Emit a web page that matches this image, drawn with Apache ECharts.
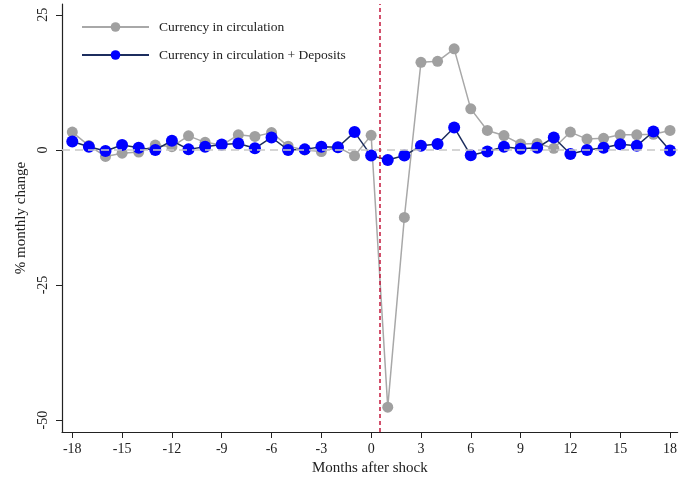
<!DOCTYPE html>
<html>
<head>
<meta charset="utf-8">
<script src="https://cdn.jsdelivr.net/npm/echarts@6/dist/echarts.min.js"></script>
<style>
  html, body { margin: 0; padding: 0; background: #fff; }
  #chart { width: 680px; height: 484px; }
</style>
</head>
<body>
<div id="chart"></div>
<script>
const months = [-18, -17, -16, -15, -14, -13, -12, -11, -10, -9, -8, -7, -6, -5, -4, -3, -2, -1,
  0, 1, 2, 3, 4, 5, 6, 7, 8, 9, 10, 11, 12, 13, 14, 15, 16, 17, 18]

const currency = [3.3, 0.8, -1.2, -0.6, -0.4, 0.9, 0.6, 2.6, 1.4, 0.9, 2.8, 2.5, 3.2, 0.7, 0.0, -0.3, 0.5, -1.1,
  2.7, -47.6, -12.5, 16.2, 16.4, 18.7, 7.6, 3.6, 2.65, 1.1, 1.2, 0.3, 3.3, 2.0, 2.15, 2.8, 2.8, 2.9, 3.6]

const currencyDeposits = [1.55, 0.6, -0.2, 0.9, 0.4, 0.0, 1.7, 0.1, 0.6, 1.0, 1.2, 0.3, 2.3, 0.0, 0.1, 0.6, 0.5, 3.3,
  -1.05, -1.85, -1.05, 0.75, 1.1, 4.15, -1.0, -0.3, 0.6, 0.2, 0.4, 2.3, -0.75, 0.0, 0.4, 1.05, 0.75, 3.4, -0.1]

const xTicks = [-18, -15, -12, -9, -6, -3, 0, 3, 6, 9, 12, 15, 18]
const yTicks = [-50, -25, 0, 25]
const shockMonth = 0.5

const serif = '"Liberation Serif", "DejaVu Serif", serif'

const chart = echarts.init(document.getElementById('chart'))

function pairs(values) {
  return months.map((m, i) => [m, values[i]])
}

const option = {
  animation: false,
  textStyle: { fontFamily: serif },
  grid: { left: 62, right: 0, top: 4, bottom: 52 },
  legend: {
    left: 76,
    top: 15,
    orient: 'vertical',
    itemWidth: 67,
    itemHeight: 12,
    itemGap: 14,
    textStyle: { fontFamily: serif, fontSize: 13.5, color: '#222', padding: [0, 0, 0, 5] },
    data: ['Currency in circulation', 'Currency in circulation + Deposits']
  },
  xAxis: {
    type: 'value',
    min: -18.62,
    max: 18.46,
    name: 'Months after shock',
    nameLocation: 'middle',
    nameGap: 28,
    nameTextStyle: { fontFamily: serif, fontSize: 15, color: '#222' },
    axisLine: { onZero: false, lineStyle: { color: '#222', width: 1.2 } },
    axisTick: { customValues: xTicks, length: 6, lineStyle: { color: '#222' } },
    axisLabel: { customValues: xTicks, margin: 10, fontSize: 14, color: '#222', fontFamily: serif },
    splitLine: { show: false }
  },
  yAxis: {
    type: 'value',
    min: -52.2,
    max: 27,
    name: '% monthly change',
    nameLocation: 'middle',
    nameGap: 30,
    nameRotate: 90,
    nameTextStyle: { fontFamily: serif, fontSize: 15, color: '#222' },
    axisLine: { show: true, onZero: false, lineStyle: { color: '#222', width: 1.2 } },
    axisTick: { show: true, customValues: yTicks, length: 6, lineStyle: { color: '#222' } },
    axisLabel: { customValues: yTicks, rotate: 90, margin: 12, fontSize: 14, color: '#222', fontFamily: serif },
    splitLine: { show: false }
  },
  series: [
    {
      name: 'Currency in circulation',
      type: 'line',
      data: pairs(currency),
      symbol: 'circle',
      symbolSize: 11,
      z: 2,
      lineStyle: { color: '#a8a8a8', width: 1.5 },
      itemStyle: { color: '#a0a0a0' },
      markLine: {
        silent: true,
        symbol: 'none',
        label: { show: false },
        data: [
          { yAxis: 0, lineStyle: { color: '#c8c8c8', type: [8, 5], width: 1.5 } }
        ]
      }
    },
    {
      name: 'Currency in circulation + Deposits',
      type: 'line',
      data: pairs(currencyDeposits),
      symbol: 'circle',
      symbolSize: 12,
      z: 3,
      lineStyle: { color: '#1c2d5e', width: 1.5 },
      itemStyle: { color: '#0000ff' },
      markLine: {
        silent: true,
        symbol: 'none',
        label: { show: false },
        data: [
          { xAxis: shockMonth, lineStyle: { color: '#c4173c', type: [4, 3], width: 1.5 } }
        ]
      }
    }
  ]
}

chart.setOption(option)
</script>
</body>
</html>
